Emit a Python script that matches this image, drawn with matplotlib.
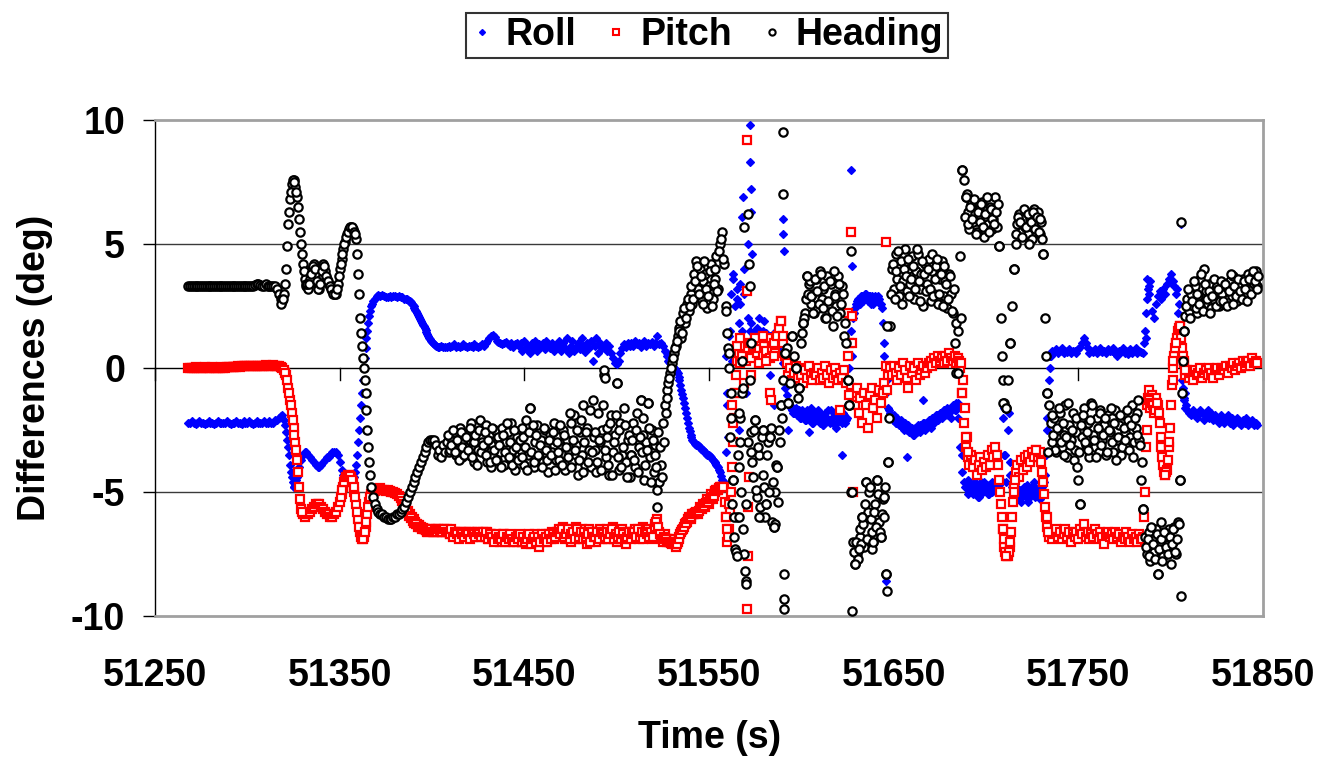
import numpy as np
import matplotlib
matplotlib.use("Agg")
import matplotlib.pyplot as plt
from matplotlib.lines import Line2D

plt.rcParams['font.family'] = ['Liberation Sans', 'DejaVu Sans']
plt.rcParams['font.weight'] = 'bold'
plt.rcParams['axes.unicode_minus'] = False

# one reading per second from 51268 s, 20 values per row
t_start = 51268

roll = [
    -2.2, -2.2, -2.15, -2.2, -2.25, -2.2, -2.15, -2.2, -2.2, -2.25, -2.2, -2.15, -2.2, -2.2, -2.25, -2.2, -2.15, -2.2, -2.2, -2.2,
    -2.2, -2.15, -2.2, -2.25, -2.2, -2.2, -2.15, -2.2, -2.2, -2.25, -2.15, -2.2, -2.2, -2.15, -2.2, -2.25, -2.2, -2.15, -2.2, -2.2,
    -2.2, -2.15, -2.2, -2.2, -2.15, -2.2, -2.2, -2.1, -2.1, -2.0, -1.95, -1.9, -2.1, -2.6, -3.2, -3.9, -4.4, -4.8, -4.7, -4.4,
    -4.0, -3.7, -3.5, -3.4, -3.4, -3.5, -3.6, -3.7, -3.8, -3.9, -4.0, -4.0, -3.9, -3.8, -3.7, -3.6, -3.6, -3.5, -3.4, -3.4,
    -3.4, -3.5, -3.8, -4.1, -4.3, -4.5, -4.6, -4.6, -4.6, -4.5, -4.4, -3.9, -3.0, -2.0, -1.0, 0.0, 0.8, 1.5, 2.1, 2.5,
    2.7, 2.8, 2.9, 2.95, 2.9, 2.95, 2.9, 2.85, 2.85, 2.9, 2.85, 2.9, 2.9, 2.85, 2.9, 2.85, 2.85, 2.8, 2.8, 2.75,
    2.7, 2.6, 2.5, 2.35, 2.2, 2.05, 1.9, 1.75, 1.6, 1.45, 1.3, 1.15, 1.05, 0.95, 0.9, 0.85, 0.85, 0.9, 0.85, 0.85,
    0.85, 0.9, 0.85, 0.9, 0.95, 0.85, 0.9, 0.85, 0.9, 0.95, 0.9, 0.85, 0.9, 0.9, 0.85, 0.95, 0.9, 0.85, 0.9, 0.95,
    0.9, 1.0, 1.1, 1.2, 1.3, 1.35, 1.25, 1.1, 1.05, 1.0, 0.95, 1.0, 1.05, 0.95, 0.9, 1.0, 0.85, 0.95, 1.0, 0.9,
    1.0, 0.7, 1.1, 0.8, 0.9, 0.6, 1.0, 0.8, 1.1, 0.7, 0.95, 0.85, 1.0, 0.75, 1.1, 0.9, 0.8, 1.0, 0.7, 0.9,
    0.9, 1.1, 0.7, 1.0, 0.8, 1.2, 0.6, 0.9, 1.1, 0.7, 0.85, 1.0, 0.75, 1.2, 0.9, 0.65, 1.0, 0.8, 1.1, 0.3,
    0.9, 1.2, 0.6, 1.0, 0.8, 0.9, 1.0, 0.7, 0.9, 0.6, 0.4, 0.2, 0.15, 0.3, 0.6, 0.8, 0.95, 0.85, 1.0, 0.9,
    1.0, 0.9, 1.1, 0.95, 1.0, 0.85, 1.0, 1.1, 0.9, 1.0, 0.95, 1.05, 0.9, 1.0, 1.3, 0.95, 1.0, 0.9, 0.7, 0.5,
    0.3, 0.2, 0.1, 0.0, -0.1, -0.2, -0.5, -0.9, -1.2, -1.6, -2.0, -2.4, -2.7, -2.9, -3.0, -3.1, -3.1, -3.2, -3.3, -3.3,
    -3.4, -3.5, -3.5, -3.6, -3.7, -3.8, -3.9, -4.0, -4.2, -4.5, -4.6, -3.4, -1.0, 1.3, 3.0, 3.6, 2.5, 3.2, 1.8, 2.6,
    1.5, 3.0, 0.5, 2.0, 1.5, 1.8, 1.4, 1.2, 1.6, 1.3, 1.1, 1.5, 1.2, 1.4, 1.0, 1.3, 1.1, 1.4, 1.0, 1.2,
    0.9, 0.6, 0.2, -0.8, -1.1, -1.4, -1.5, -1.7, -1.8, -1.6, -1.9, -1.7, -2.0, -1.8, -2.1, -1.7, -2.0, -1.9, -2.2, -1.8,
    -2.0, -1.7, -2.2, -1.9, -2.3, -1.8, -2.0, -2.1, -1.7, -2.2, -1.9, -2.4, -1.8, -2.0, -2.2, -1.9, -2.1, -1.5, 0.0, 1.5,
    2.0, 2.4, 2.7, 2.8, 2.6, 2.9, 2.8, 3.0, 2.7, 2.9, 2.8, 2.6, 2.9, 2.7, 2.8, 2.6, 1.8, 0.5, -1.0, -1.6,
    -1.8, -2.0, -1.9, -2.2, -2.0, -2.3, -2.1, -2.4, -2.2, -2.5, -2.3, -2.6, -2.4, -2.7, -2.5, -2.3, -2.6, -2.4, -2.2, -2.5,
    -2.3, -2.1, -2.4, -2.0, -2.2, -1.9, -2.1, -1.8, -2.0, -1.7, -1.9, -1.6, -1.8, -2.0, -1.5, -1.7, -1.4, -2.0, -3.2, -4.2,
    -4.6, -4.8, -4.5, -5.0, -4.7, -5.1, -4.6, -4.9, -5.2, -4.7, -5.0, -4.6, -4.9, -5.1, -4.7, -5.0, -4.8, -4.6, -5.0, -4.7,
    -4.5, -2.0, -3.5, -4.6, -2.5, -3.8, -4.8, -5.0, -4.8, -5.2, -4.9, -5.4, -4.9, -5.1, -4.7, -5.3, -4.9, -5.0, -4.6, -5.1,
    -4.9, -5.2, -4.8, -5.0, -4.3, -2.5, -0.5, 0.5, 0.7, 0.65, 0.75, 0.6, 0.7, 0.8, 0.6, 0.7, 0.65, 0.75, 0.6, 0.7,
    0.7, 0.6, 0.75, 0.85, 1.0, 1.2, 1.0, 0.8, 0.6, 0.7, 0.65, 0.75, 0.6, 0.7, 0.8, 0.65, 0.7, 0.6, 0.75, 0.7,
    0.7, 0.8, 0.6, 0.5, 0.7, 0.65, 0.8, 0.6, 0.7, 0.55, 0.75, 0.6, 0.7, 0.8, 0.6, 0.7, 0.65, 0.6, 1.5, 2.8,
    3.3, 3.5, 2.3, 2.0, 2.6, 2.9, 3.1, 2.8, 3.2, 3.0, 3.4, 3.6, 3.8, 3.5, 3.3, 3.0, 2.2, 1.0, -0.5, -1.3,
    -1.6, -1.7, -1.8, -1.9, -1.7, -1.8, -2.0, -1.9, -1.7, -1.8, -2.1, -1.9, -1.7, -2.0, -1.8, -2.1, -1.9, -2.0, -2.2, -1.9,
    -2.0, -2.2, -2.1, -1.9, -2.2, -2.0, -2.3, -2.1, -2.0, -2.2, -2.3, -2.1, -2.2, -2.0, -2.3, -2.2, -2.1, -2.3, -2.2, -2.3,
]

pitch = [
    0.0, 0.02, 0.0, 0.0, 0.03, 0.0, 0.02, 0.0, 0.0, 0.03, 0.0, 0.02, 0.0, 0.03, 0.0, 0.02, 0.0, 0.0, 0.03, 0.0,
    0.02, 0.03, 0.05, 0.04, 0.05, 0.06, 0.05, 0.08, 0.06, 0.08, 0.07, 0.08, 0.1, 0.08, 0.1, 0.09, 0.1, 0.08, 0.1, 0.1,
    0.1, 0.1, 0.12, 0.1, 0.08, 0.1, 0.12, 0.1, 0.1, 0.08, 0.05, 0.0, -0.1, -0.3, -0.8, -1.3, -1.8, -2.4, -3.0, -3.7,
    -4.8, -5.7, -5.9, -6.0, -5.9, -5.9, -5.8, -5.7, -5.6, -5.5, -5.5, -5.5, -5.6, -5.7, -5.8, -5.9, -5.9, -6.0, -6.0, -5.9,
    -5.8, -5.6, -5.4, -5.1, -4.8, -4.5, -4.4, -4.3, -4.4, -4.6, -5.0, -5.5, -6.1, -6.6, -6.9, -6.8, -6.4, -5.9, -5.4, -5.1,
    -5.0, -4.95, -4.9, -4.9, -4.85, -4.9, -4.9, -4.95, -4.9, -4.95, -5.0, -5.0, -5.05, -5.1, -5.15, -5.25, -5.35, -5.5, -5.6, -5.75,
    -5.9, -6.0, -6.1, -6.2, -6.3, -6.35, -6.4, -6.45, -6.5, -6.55, -6.6, -6.5, -6.55, -6.6, -6.5, -6.6, -6.55, -6.5, -6.6, -6.55,
    -6.5, -6.6, -6.7, -6.6, -6.7, -6.6, -6.8, -6.7, -6.6, -6.7, -6.65, -6.75, -6.6, -6.7, -6.8, -6.65, -6.7, -6.6, -6.75, -6.7,
    -6.7, -6.8, -6.6, -6.9, -6.7, -6.8, -6.9, -6.75, -6.8, -7.0, -6.8, -6.7, -6.9, -6.8, -7.0, -6.85, -6.8, -6.9, -7.0, -6.8,
    -6.9, -7.0, -6.8, -7.1, -6.9, -6.8, -7.0, -6.8, -6.7, -6.9, -7.2, -6.9, -6.8, -7.0, -6.7, -6.9, -6.8, -6.6, -6.9, -6.7,
    -6.7, -6.5, -6.8, -6.4, -6.9, -6.6, -6.5, -7.0, -6.6, -6.8, -6.4, -6.7, -6.9, -6.5, -6.8, -6.6, -7.1, -6.5, -6.8, -6.6,
    -6.6, -7.0, -6.7, -6.5, -6.9, -6.6, -6.8, -6.5, -6.9, -6.7, -6.4, -6.8, -7.0, -6.6, -6.9, -6.5, -6.7, -7.1, -6.6, -6.8,
    -6.6, -6.8, -6.5, -6.7, -6.9, -6.6, -6.4, -6.7, -6.8, -6.5, -6.7, -6.9, -6.5, -6.3, -6.1, -6.6, -6.8, -7.0, -6.7, -6.9,
    -6.9, -7.0, -7.1, -6.9, -7.2, -7.0, -6.8, -6.6, -6.5, -6.3, -6.2, -6.0, -6.1, -5.9, -5.9, -5.8, -5.9, -5.6, -5.7, -5.5,
    -5.6, -5.3, -5.5, -5.1, -5.3, -5.0, -4.9, -4.9, -4.8, -4.8, -4.8, -6.0, -7.0, -6.5, -5.0, -3.0, -1.0, 0.3, 0.6, 0.2,
    0.5, 0.9, 0.3, 0.8, 1.0, 0.4, 0.9, 1.2, 0.6, 0.8, 1.1, 0.5, 0.9, 0.7, 1.2, 0.4, 0.8, 1.0, 0.6, 1.3,
    1.6, 1.9, 1.0, 0.5, 0.2, -0.3, 0.0, -0.5, -0.2, 0.1, -0.4, 0.0, -0.3, -0.6, -0.1, -0.4, 0.1, -0.3, -0.5, -0.2,
    -0.3, 0.0, -0.5, -0.2, -0.4, 0.1, -0.3, -0.6, -0.1, -0.4, 0.0, -0.3, -0.5, -0.2, -0.4, -0.1, -0.6, 0.5, 1.0, -0.8,
    -1.0, -1.5, -0.8, -1.8, -1.2, -2.2, -1.0, -1.5, -2.4, -1.1, -0.8, -1.6, -1.3, -2.0, -0.9, -1.4, -1.0, -0.6, 0.1, -0.3,
    0.0, -0.3, 0.1, -0.2, -0.5, 0.0, -0.3, 0.2, -0.1, -0.4, -0.8, 0.1, -0.2, 0.0, -0.5, 0.2, -0.3, -0.1, 0.1, -0.2,
    0.0, 0.2, 0.3, 0.1, 0.4, 0.2, 0.5, 0.3, 0.4, 0.2, 0.5, 0.3, 0.6, 0.4, 0.3, 0.5, 0.2, 0.4, 0.0, -1.0,
    -2.2, -3.2, -3.6, -3.9, -3.5, -4.0, -3.7, -4.3, -3.9, -3.6, -4.1, -3.8, -4.0, -3.5, -3.9, -3.3, -3.6, -3.2, -3.5, -4.5,
    -5.5, -6.5, -7.2, -7.5, -7.6, -7.2, -6.0, -4.8, -4.2, -3.9, -4.4, -3.7, -4.1, -3.6, -4.0, -3.5, -3.8, -3.4, -3.6, -3.3,
    -3.6, -3.4, -3.8, -4.6, -5.6, -6.4, -6.8, -6.6, -6.9, -6.7, -6.5, -6.8, -6.6, -6.9, -6.7, -6.5, -6.8, -6.6, -7.0, -6.7,
    -6.8, -6.6, -6.9, -6.5, -6.7, -6.3, -6.8, -6.6, -6.9, -6.7, -6.8, -6.5, -6.7, -6.9, -6.6, -6.8, -7.1, -6.7, -6.6, -6.8,
    -6.7, -6.9, -6.6, -6.8, -6.7, -7.0, -6.8, -6.9, -6.6, -6.8, -7.0, -6.7, -6.9, -6.8, -7.0, -6.7, -6.9, -6.8, -5.0, -1.5,
    -0.9, -1.6, -1.1, -1.8, -1.2, -1.5, -2.2, -3.2, -3.9, -4.3, -4.1, -3.2, -1.5, 0.0, 0.5, 1.0, 1.5, 1.7, 0.8, 0.2,
    -0.3, -0.1, -0.4, -0.2, -0.5, -0.1, -0.3, -0.2, 0.0, -0.4, -0.2, -0.1, -0.3, 0.0, -0.2, -0.4, -0.1, 0.0, -0.3, -0.1,
    0.0, -0.1, 0.1, -0.2, 0.1, 0.0, 0.2, -0.1, 0.1, 0.2, 0.0, 0.3, 0.1, 0.2, 0.3, 0.1, 0.4, 0.2, 0.3, 0.2,
]

heading = [
    3.3, 3.3, 3.3, 3.3, 3.3, 3.3, 3.3, 3.3, 3.3, 3.3, 3.3, 3.3, 3.3, 3.3, 3.3, 3.3, 3.3, 3.3, 3.3, 3.3,
    3.3, 3.3, 3.3, 3.3, 3.3, 3.3, 3.3, 3.3, 3.3, 3.3, 3.3, 3.3, 3.3, 3.3, 3.3, 3.3, 3.35, 3.4, 3.4, 3.35,
    3.3, 3.3, 3.4, 3.3, 3.3, 3.3, 3.3, 3.3, 3.2, 3.0, 2.8, 2.7, 3.0, 4.0, 5.8, 6.8, 7.4, 7.6, 7.3, 6.9,
    6.0, 5.0, 4.2, 3.6, 3.3, 3.2, 3.6, 4.0, 4.2, 3.8, 3.3, 3.2, 3.6, 4.2, 3.9, 3.6, 3.4, 3.3, 3.1, 3.0,
    3.0, 3.4, 4.0, 4.4, 4.8, 5.1, 5.4, 5.6, 5.7, 5.6, 5.5, 5.2, 3.8, 2.0, 0.9, 0.0, -1.0, -2.5, -3.8, -4.8,
    -5.2, -5.5, -5.7, -5.8, -5.9, -5.9, -6.0, -6.0, -6.1, -6.1, -6.1, -6.0, -6.0, -5.9, -5.9, -5.8, -5.7, -5.6, -5.4, -5.2,
    -5.0, -4.8, -4.6, -4.4, -4.2, -4.0, -3.8, -3.6, -3.4, -3.2, -3.0, -2.9, -2.9, -2.9, -3.1, -3.5, -3.3, -3.6, -3.1, -3.4,
    -3.0, -3.4, -2.8, -3.3, -2.6, -3.5, -3.0, -2.4, -3.6, -2.9, -3.2, -2.7, -3.5, -2.2, -3.1, -3.8, -2.6, -3.3, -2.1, -3.0,
    -3.2, -2.3, -3.8, -2.7, -4.0, -3.1, -2.5, -3.7, -2.9, -3.4, -2.4, -3.9, -3.0, -2.6, -3.6, -2.2, -3.3, -4.1, -2.8, -3.5,
    -3.3, -2.4, -3.9, -2.1, -3.5, -1.6, -2.6, -4.0, -3.0, -2.3, -3.6, -2.9, -3.8, -2.5, -3.2, -4.2, -2.7, -3.4, -2.2, -3.7,
    -2.8, -3.7, -3.2, -2.5, -4.1, -2.9, -3.4, -2.2, -3.8, -1.9, -3.1, -4.3, -2.6, -3.5, -1.5, -3.9, -2.4, -3.3, -4.0, -1.3,
    -3.3, -4.2, -1.8, -3.0, -2.5, -0.3, -3.6, -2.4, -4.3, -1.9, -3.4, -2.7, -0.6, -4.1, -2.2, -3.5, -1.6, -3.8, -2.9, -4.4,
    -3.5, -2.2, -4.0, -1.8, -3.2, -1.3, -2.7, -4.5, -3.0, -1.4, -3.6, -2.5, -4.2, -3.1, -5.6, -4.6, -3.9, -2.2, -1.5, -0.9,
    -0.6, -0.2, 0.2, 0.6, 0.9, 1.3, 1.6, 1.2, 2.2, 1.8, 2.6, 2.3, 3.0, 2.6, 3.8, 4.3, 3.2, 4.0, 2.7, 3.5,
    3.8, 2.4, 3.3, 4.2, 2.8, 3.6, 4.5, 3.2, 5.0, 5.5, 4.2, 2.5, 1.4, 0.0, -2.0, -4.5, -7.3, -6.0, -4.0, -2.0,
    -1.0, -7.5, -5.5, -3.0, -0.5, -2.6, -4.4, -2.1, -5.2, -3.5, -6.0, -2.5, -4.8, -5.5, -3.0, -2.8, -6.2, -6.4, -5.0, -4.0,
    -2.5, -1.5, -0.5, 0.6, 0.8, -1.4, -0.6, 1.3, 0.5, 0.0, -1.2, -0.8, 1.0, 1.8, 2.2, 3.7, 3.4, 2.6, 3.0, 2.2,
    3.6, 2.4, 3.9, 2.8, 3.2, 2.0, 3.7, 2.6, 3.4, 1.7, 3.0, 2.5, 3.7, 2.2, 3.3, 1.3, 1.0, -0.5, -1.5, -5.0,
    -7.0, -7.9, -7.5, -7.3, -6.8, -6.0, -7.2, -4.6, -5.8, -4.8, -6.6, -7.0, -5.5, -4.5, -6.2, -6.8, -5.3, -5.2, -8.3, -3.8,
    1.7, 4.0, 3.2, 4.6, 3.6, 2.9, 4.3, 3.5, 4.8, 3.1, 4.0, 3.4, 4.5, 2.8, 3.9, 4.6, 3.2, 3.8, 2.5, 4.2,
    3.4, 4.4, 2.7, 3.9, 3.0, 4.1, 2.6, 3.6, 4.3, 2.9, 3.5, 2.4, 3.8, 3.0, 2.2, 1.0, -0.2, 1.5, 4.5, 8.0,
    7.6, 6.9, 6.3, 5.6, 6.6, 5.9, 6.2, 5.5, 6.4, 6.0, 6.7, 5.3, 6.1, 5.8, 6.5, 5.6, 6.0, 6.9, 5.7, 4.9,
    2.0, -0.5, -1.4, -1.6, -0.5, 1.0, 2.5, 4.0, 5.0, 5.8, 6.2, 5.5, 6.0, 5.7, 6.3, 5.4, 6.0, 5.2, 6.4, 5.8,
    6.3, 5.4, 5.9, 4.6, 2.0, -1.0, -1.5, -2.2, -3.0, -2.0, -3.4, -2.5, -1.8, -3.2, -2.7, -1.5, -3.6, -2.3, -2.9, -1.8,
    -3.3, -2.6, -4.5, -5.5, -2.8, -1.6, -3.1, -2.2, -3.6, -1.4, -2.7, -3.2, -2.0, -3.4, -1.7, -2.9, -2.3, -3.5, -1.9, -2.6,
    -2.0, -3.4, -1.7, -2.9, -2.3, -3.5, -1.9, -2.6, -3.2, -2.1, -2.8, -1.5, -3.0, -2.4, -1.8, -2.9, -4.5, -5.7, -6.8, -7.5,
    -6.6, -7.8, -6.9, -7.4, -6.5, -8.3, -7.0, -6.2, -7.6, -6.8, -7.3, -6.5, -7.9, -7.0, -6.4, -7.5, -6.2, -4.5, -1.0, 1.5,
    2.1, 2.8, 2.3, 3.0, 2.5, 3.3, 2.2, 2.9, 3.6, 2.6, 4.0, 3.1, 2.6, 3.4, 2.4, 3.0, 2.7, 3.3, 2.5, 3.0,
    3.0, 2.6, 3.3, 2.8, 3.5, 2.9, 3.7, 3.1, 2.7, 3.4, 3.0, 3.6, 2.9, 3.3, 3.8, 3.2, 3.7, 3.4, 3.9, 3.3,
]

# half-second readings where the traces are dense: (first time, values every 1 s)
roll_half = [
    (51320.5, [-2.3, -2.9, -3.5, -4.2, -4.6, -4.8, -4.5, -4.2]),
    (51358.5, [-4.2, -3.5, -2.5, -1.5, -0.5, 0.4, 1.2, 1.8, 2.3, 2.6]),
    (51386.5, [2.78, 2.72, 2.65, 2.55, 2.43, 2.28, 2.13, 1.98, 1.83, 1.68, 1.53, 1.38, 1.22, 1.1, 1.0, 0.92]),
    (51527.5, [0.6, 0.25, 0.15, 0.05, -0.05, -0.15, -0.35, -0.7, -1.05, -1.4, -1.8, -2.2, -2.55, -2.8, -2.95, -3.05,
               -3.1, -3.15, -3.25, -3.3, -3.35, -3.45, -3.5, -3.55, -3.65, -3.75, -3.85, -3.95, -4.1, -4.35, -4.55]),
    (51594.5, [-1.6, -1.8, -1.7, -1.9, -1.8, -2.0, -1.7, -1.9, -2.1, -1.8, -2.0, -1.6, -2.2, -1.9, -2.1, -1.8,
               -2.0, -2.3, -1.9, -2.1, -1.7, -2.2, -2.0, -1.8, -2.3, -1.9, -2.1, -2.0, -1.8, -2.2, -2.0]),
    (51628.5, [2.2, 2.6, 2.8, 2.7, 2.9, 2.7, 3.0, 2.8, 2.9, 2.6, 2.9, 2.8, 2.7, 2.9, 2.6, 2.4]),
    (51647.5, [-1.7, -1.9, -2.1, -2.0, -2.2, -2.1, -2.3, -2.2, -2.5, -2.3, -2.4, -2.6, -2.5, -2.7, -2.4, -2.6, -2.5, -2.3, -2.4,
               -2.2, -2.2, -2.3, -2.1, -2.2, -2.0, -2.1, -1.9, -2.0, -1.8, -1.9, -1.7, -1.8, -1.9, -1.7, -1.6, -1.5, -1.7, -1.6]),
    (51688.5, [-4.8, -4.6, -5.1, -4.8, -4.9, -5.0, -4.7, -5.2, -4.8, -4.6, -5.0, -4.9, -4.7, -5.1, -4.8, -4.6, -4.9, -5.0, -4.7]),
    (51714.5, [-4.9, -5.1, -4.8, -5.3, -5.0, -5.2, -4.8, -5.0, -5.4, -4.9, -5.1, -4.7, -5.2, -4.9, -5.0, -5.3, -4.8]),
    (51731.5, [-4.6, -3.5, -1.5, 0.0, 0.6]),
    (51785.5, [1.0, 2.2, 3.2, 3.0]),
    (51803.5, [3.2, 2.6, 1.6, 0.2, -1.0, -1.5]),
]

pitch_half = [
    (51320.5, [-0.2, -0.5, -1.0, -1.5, -2.1, -2.7, -3.3, -4.2, -5.3, -5.8]),
    (51350.5, [-5.2, -4.9, -4.6, -4.4, -4.3, -4.35, -4.5, -4.8, -5.2, -5.8, -6.4, -6.8, -6.9, -6.6, -6.2, -5.6, -5.2]),
    (51386.5, [-5.8, -5.95, -6.05, -6.15, -6.25, -6.3, -6.4, -6.4, -6.5, -6.5, -6.55, -6.6, -6.55, -6.5, -6.6, -6.55,
               -6.6, -6.5, -6.55, -6.6, -6.5, -6.6]),
    (51408.5, [-6.6, -6.7, -6.5, -6.8, -6.6, -6.7, -6.9, -6.6, -6.7, -6.8, -6.6, -6.7, -6.9, -6.6, -6.7, -6.8, -6.6, -6.7, -6.8, -6.6,
               -6.8, -6.6, -6.9, -6.7, -6.8, -7.0, -6.7, -6.9, -6.8, -6.9, -6.7, -7.0, -6.8, -6.9, -6.7, -6.9, -7.0, -6.8, -6.9, -6.7,
               -7.0, -6.8, -7.0, -6.9, -6.7, -7.1, -6.9, -6.8, -7.0, -6.8, -7.0, -6.7, -6.9, -6.8, -7.0, -6.7, -6.9, -6.7, -6.8, -6.6,
               -6.6, -6.7, -6.5, -6.8, -6.7, -6.5, -6.9, -6.7, -6.6, -6.9, -6.5, -6.8, -6.6, -6.9, -6.6, -6.8, -6.7, -7.0, -6.6, -6.8,
               -6.8, -6.6, -6.9, -6.6, -6.7, -6.8, -6.6, -6.9, -6.7, -6.5, -6.9, -6.7, -6.8, -6.6, -6.9, -6.7, -6.9, -6.8, -6.6, -6.9,
               -6.7, -6.6, -6.8, -6.5, -6.8, -6.6, -6.9, -6.6, -6.7, -6.8, -6.6, -6.8, -6.4, -6.2, -6.4, -6.7, -6.9, -6.8, -6.9, -7.0]),
    (51528.5, [-7.0, -7.05, -7.0, -7.1, -7.1, -6.9, -6.7, -6.55, -6.4, -6.25, -6.1, -6.05, -6.0, -5.9, -5.85, -5.85,
               -5.75, -5.65, -5.6, -5.55, -5.45, -5.4, -5.3, -5.2, -5.15, -4.95, -4.9, -4.85, -4.8, -4.8, -5.4, -6.5,
               -6.8, -5.8, -4.0, -2.0, -0.3]),
    (51685.5, [0.3, 0.2, -0.5, -1.6, -2.8, -3.4]),
    (51706.5, [-3.9, -5.0, -6.0, -6.9, -7.4, -7.6, -7.4, -6.6, -5.4, -4.5]),
    (51730.5, [-4.2, -5.1, -6.0, -6.6]),
    (51784.5, [-6.9, -6.0, -3.2, -1.2, -1.3, -1.4, -1.5, -1.7, -1.4, -1.8, -2.8, -3.6, -4.2, -4.2, -3.7, -2.4,
               -0.7, 0.3, 0.8, 1.2, 1.6, 1.2, 0.5, -0.1]),
]

heading_half = [
    (51318.5, [2.6, 2.8, 3.4, 4.9, 6.3, 7.1, 7.6, 7.5, 7.1, 6.5, 5.5, 4.6, 3.9, 3.4]),
    (51332.5, [3.4, 3.4, 3.8, 4.1, 4.0, 3.5, 3.2, 3.4, 3.9, 4.1, 3.7, 3.5, 3.3, 3.2, 3.0, 3.0, 3.2, 3.7, 4.2, 4.6,
               5.0, 5.3, 5.5, 5.7, 5.7, 5.5, 5.4, 4.6, 3.0, 1.4, 0.4, -0.5, -1.7, -3.2, -4.3]),
    (51408.5, [-2.7, -3.3, -3.1, -2.5, -3.4, -2.9, -3.7, -2.6, -3.2, -3.5, -2.8, -3.3, -2.4, -3.6, -3.0, -2.7, -3.9, -2.5, -3.4, -3.1,
               -2.6, -3.5, -2.9, -3.8, -2.4, -3.3, -3.7, -2.8, -3.1, -4.0, -2.7, -3.4, -2.2, -3.6, -3.0, -3.9, -2.5, -3.2, -3.7, -2.9,
               -3.6, -2.8, -3.2, -4.1, -2.6, -3.4, -2.3, -3.8, -2.7, -3.5, -3.1, -4.0, -2.4, -3.3, -3.7, -2.9, -3.5, -2.6, -4.1, -3.0,
               -3.4, -2.3, -3.9, -2.7, -3.2, -3.6, -1.8, -4.0, -2.9, -3.3, -2.5, -3.7, -2.1, -4.2, -3.0, -2.6, -3.8, -1.7, -3.4, -2.8,
               -2.6, -3.8, -2.9, -4.1, -1.5, -3.3, -2.8, -3.9, -2.2, -4.3, -3.0, -1.9, -3.6, -2.5, -4.0, -3.2, -2.3, -4.4, -2.7, -3.5,
               -2.9, -3.7, -2.5, -4.2, -2.8, -3.4, -2.0, -3.9, -3.3, -2.4, -4.6, -2.9, -3.5, -4.0, -2.6, -3.2, -4.4, -3.0, -1.8, -1.2]),
    (51528.5, [-0.4, 0.0, 0.4, 0.8, 1.1, 1.5, 1.9, 1.4, 2.4, 2.0, 2.8, 2.5, 3.3]),
    (51541.5, [2.8, 3.5, 4.1, 3.0, 3.7, 2.6, 4.3, 3.2, 2.9, 3.9, 2.5, 3.4, 4.0, 3.1, 4.7, 5.2, 4.4]),
    (51560.5, [0.8, -2.8, -5.5, -6.8, -7.4, -3.5, -1.8, -5.0, -6.5]),
    (51573.5, [-3.8, -2.5, -4.9, -3.2, -5.6, -2.8, -4.3, -6.0, -3.5, -5.0, -2.4, -4.6, -6.3, -3.9, -5.4, -3.0, -2.0]),
    (51600.5, [1.4, 2.0, 2.8, 3.0, 3.5, 2.9, 2.2, 3.6, 3.1, 2.6, 3.8, 2.4, 3.3, 2.0, 2.7, 3.5, 2.3, 3.9, 2.9, 2.1, 3.4, 2.6, 3.0, 1.8]),
    (51628.5, [-7.4, -7.0, -7.7, -6.5, -7.1, -6.3, -5.5, -6.9, -5.0, -6.1, -7.3, -5.8, -6.4, -5.1, -6.6, -5.9, -6.0, -4.8]),
    (51648.5, [3.0, 4.2, 2.8, 3.9, 4.7, 3.3, 2.6, 4.0, 3.7, 4.4, 2.9, 3.6, 4.1, 3.2, 4.8, 3.5, 2.7, 4.3, 3.8, 3.1,
               4.0, 3.2, 4.6, 2.9, 3.6, 4.4, 3.0, 3.8, 2.5, 4.1, 3.4, 2.8, 3.7, 2.3, 3.2, 1.8]),
    (51688.5, [6.1, 7.0, 5.8, 6.5, 6.0, 6.8, 5.4, 6.3, 5.9, 6.6, 5.7, 6.2, 6.9, 5.5, 6.4, 6.0, 5.8, 6.3, 6.6]),
    (51716.5, [5.4, 6.1, 5.9, 5.3, 6.4, 5.7, 6.2, 5.0, 5.9, 6.3, 5.6, 6.1, 5.5, 6.0, 5.2]),
    (51735.5, [-1.9, -2.7, -3.3, -2.4, -1.6, -3.0, -2.2, -3.5, -2.8, -1.4, -3.1, -2.5, -3.7, -2.0, -4.0, -3.4, -2.3, -1.9, -3.0, -2.6,
               -3.3, -2.1, -1.5, -2.9, -3.6, -2.4, -1.8, -3.1, -2.7, -2.0, -3.4, -2.5, -1.6, -3.0, -2.2, -3.7, -2.8, -1.9, -3.2, -2.4,
               -2.9, -1.7, -3.3, -2.3, -3.6, -2.0, -2.7, -1.3, -3.1, -3.8]),
    (51786.5, [-7.2, -6.9, -7.6, -6.4, -7.1, -7.7, -6.7, -7.3, -6.9, -7.8, -6.6, -7.2, -7.5, -6.8, -7.1, -6.5, -7.4, -6.9, -6.3]),
    (51808.5, [2.5, 3.2, 2.0, 2.7, 3.5, 2.4, 3.0, 2.6, 3.8, 2.3, 3.4, 2.8, 3.1, 2.2, 2.9, 3.6, 2.5, 3.2, 2.7, 3.5,
               2.7, 3.4, 2.5, 3.1, 3.8, 2.6, 3.3, 2.9, 3.6, 3.1, 2.8, 3.5, 3.2, 2.7, 3.6, 3.0, 3.9, 3.5, 3.2, 3.7]),
]

# extra readings between the seconds (fast swings and stray points), (time, value)
roll_extra = [
    (51559, 0.5), (51559.5, -1.5), (51560.5, -2.8), (51561.5, 1.5), (51562.5, 0.3),
    (51563, 3.8), (51565, 2.8), (51566.5, -2.5), (51567, 3.4), (51568, 6.1),
    (51568.3, 6.9), (51569, 4.0), (51570, -1.0), (51571, 5.0), (51572, 9.8),
    (51572.2, 8.3), (51572.5, 6.3), (51573, 7.2), (51573.5, 4.6), (51575, 0.5),
    (51577, 2.0), (51580, 1.9), (51583, -0.3), (51585, -1.5), (51590, 6.0),
    (51590.3, 5.4), (51590.6, 4.7), (51591, 0.2), (51593, -2.5), (51604, -2.6),
    (51622, -3.5), (51627, 8.0), (51627.3, 4.1), (51627.5, 0.5), (51627.8, -1.0),
    (51645, 1.0), (51646, -8.6), (51646.5, -0.5), (51657, -3.6), (51666, -1.3),
    (51685, -1.4), (51687, -3.5), (51709, -0.5), (51709.5, -1.6), (51710.5, -3.5),
    (51712.5, -1.8), (51713, -4.3), (51733, -2.0), (51733.5, -1.0), (51734.5, 0.5),
    (51786.5, 1.2), (51787, 3.6), (51805.6, 5.8), (51806.5, -0.8), (51807, -1.2),
]

pitch_extra = [
    (51559, -6.0), (51561, -5.5), (51562.5, -1.5), (51563, -2.2), (51564.5, -1.0),
    (51565, 0.9), (51567, 1.2), (51569, -0.6), (51570.5, 9.2), (51570.6, 3.1),
    (51570.8, -9.7), (51571, -7.6), (51571.2, -5.6), (51571.4, -4.4), (51573, -0.3),
    (51575, 1.2), (51577, 0.2), (51579, 1.3), (51581, 0.3), (51583, -1.0),
    (51583.5, -1.3), (51585, 0.5), (51589, 1.9), (51590, 1.3), (51621, -1.7),
    (51625, 2.2), (51626, -1.1), (51627, 5.5), (51627.3, 2.1), (51627.6, 1.0),
    (51627.8, -5.0), (51646, 5.1), (51646.5, -0.9), (51687, -1.0), (51689, -2.8),
    (51709, -6.5), (51711, -7.6), (51713, -7.0), (51715, -5.0), (51727, -3.3),
    (51733, -6.0), (51787, -2.5), (51797, -4.3), (51799, -3.0), (51801, -0.5),
    (51803, 1.0), (51805, 1.7), (51807, 0.3),
]

heading_extra = [
    (51453, -1.6), (51493, -0.1), (51493.5, -0.4), (51500, -0.6), (51513, -1.3),
    (51517, -1.4), (51522, -4.9),
    (51559, 2.3), (51561, 0.6), (51562, -1.0), (51563, -4.5), (51563.5, -6.0),
    (51565, -7.6), (51566, -6.0), (51567, -3.0), (51568, 0.3), (51568.5, -0.8),
    (51569, 5.7), (51569.5, -8.2), (51570, -8.6), (51570.3, -8.7), (51571, 6.2),
    (51571.5, 4.2), (51572, 3.3), (51572.5, 1.0), (51573, -3.4), (51575, -2.1),
    (51577, -6.0), (51579, -2.5), (51581, -5.5), (51583, -2.8), (51585, -6.4),
    (51587, -4.0), (51589, -1.5), (51590, 9.5), (51590.2, 7.0), (51590.4, -8.3),
    (51590.6, -9.3), (51590.8, -9.7), (51591, 0.6), (51593, -1.4), (51595, 1.3),
    (51597, 0.0), (51599, -0.8), (51601, 1.8), (51603, 3.7),
    (51625, -0.5), (51626, -1.5), (51627, 4.7), (51627.2, -9.8), (51627.5, -5.0),
    (51629, -7.9), (51631, -7.3), (51633, -6.0), (51635, -4.6), (51637, -4.8),
    (51639, -7.0), (51641, -4.5), (51643, -6.8), (51645, -5.2), (51646, -8.3),
    (51646.3, -9.0), (51646.6, 1.7), (51647, -3.8), (51647.5, -2.0),
    (51685, -0.2), (51686.5, 2.0), (51687, 8.0), (51689, 6.9), (51707, 4.9),
    (51708.5, 0.5), (51709, -1.4), (51711, -1.6), (51713, 1.0), (51715, 4.0),
    (51731, 4.6), (51732.5, 0.5), (51733, -1.0), (51733.5, -3.4), (51751, -5.5),
    (51785, -5.7), (51793, -8.3), (51805, -4.5), (51805.5, -9.2), (51805.6, 5.9),
    (51806.5, 0.3), (51807, 1.5),
]

xticks = [51250, 51350, 51450, 51550, 51650, 51750, 51850]
yticks = [-10, -5, 0, 5, 10]


def series(base, extra, halves=()):
    ts = [t_start + np.arange(len(base))]
    vs = [np.asarray(base, float)]
    for t0, vals in halves:
        ts.append(t0 + np.arange(len(vals)))
        vs.append(np.asarray(vals, float))
    ts.append(np.array([p[0] for p in extra], float))
    vs.append(np.array([p[1] for p in extra], float))
    return np.concatenate(ts), np.concatenate(vs)


fig = plt.figure(figsize=(13.33, 7.57), dpi=100)
ax = fig.add_axes([155 / 1333, 1 - 616 / 757, 1108 / 1333, 496 / 757])

for gy in (5, -5):
    ax.axhline(gy, color='#3a3a3a', lw=1.0, zorder=1)
ax.axhline(0, color='black', lw=1.0, zorder=1)
for xt in xticks:
    ax.plot([xt, xt], [0, -0.48], color='black', lw=1.0, zorder=1, clip_on=False)

rt, rv = series(roll, roll_extra, roll_half)
pt, pv = series(pitch, pitch_extra, pitch_half)
ht, hv = series(heading, heading_extra, heading_half)

ax.plot(rt, rv, ls='none', marker='D', ms=4.0, mfc='#0000ff', mec='#0000ff',
        mew=0.9, zorder=3)
ax.plot(pt, pv, ls='none', marker='s', ms=5.4, mfc='white', mec='#ff0000',
        mew=1.6, zorder=4)
ax.plot(ht, hv, ls='none', marker='o', ms=6.0, mfc='white', mec='black',
        mew=1.6, zorder=5)

ax.set_xlim(51250, 51850)
ax.set_ylim(-10, 10)
ax.set_xticks(xticks)
ax.set_yticks(yticks)
ax.tick_params(axis='x', length=0, pad=30, labelsize=27)
ax.tick_params(axis='y', direction='out', length=8.6, width=1.0, pad=13,
               labelsize=27)
for lab in ax.get_xticklabels() + ax.get_yticklabels():
    lab.set_fontweight('bold')

ax.spines['left'].set_color('black')
ax.spines['left'].set_linewidth(1.0)
for s in ('top', 'right', 'bottom'):
    ax.spines[s].set_color('#a0a0a0')
    ax.spines[s].set_linewidth(2.0)

fig.text(35 / 1333, 1 - 368 / 757, 'Differences (deg)', rotation=90,
         ha='center', va='center', fontsize=27, fontweight='bold')
fig.text(710 / 1333, 1 - 738 / 757, 'Time (s)', ha='center', va='center',
         fontsize=27, fontweight='bold')

handles = [
    Line2D([], [], ls='none', marker='D', ms=3.0, mfc='#0000ff', mec='#0000ff'),
    Line2D([], [], ls='none', marker='s', ms=5.0, mfc='white', mec='#ff0000', mew=1.5),
    Line2D([], [], ls='none', marker='o', ms=4.5, mfc='white', mec='black', mew=1.5),
]
leg = fig.legend(handles, ['Roll', 'Pitch', 'Heading'], loc='center',
                 bbox_to_anchor=(707 / 1333, 1 - 35 / 757), ncol=3,
                 fontsize=27, frameon=True, fancybox=False, edgecolor='black',
                 handlelength=0.6, handletextpad=0.35, columnspacing=0.75,
                 borderpad=0.12, borderaxespad=0)
leg.get_frame().set_linewidth(1.5)
for txt in leg.get_texts():
    txt.set_fontweight('bold')

fig.savefig('out.png', dpi=100)
